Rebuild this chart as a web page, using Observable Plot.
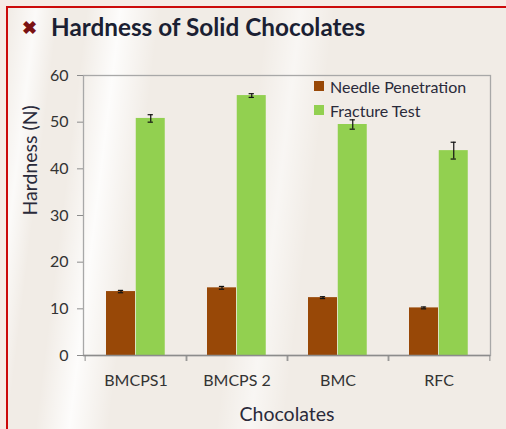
<!DOCTYPE html>
<html>
<head>
<meta charset="utf-8">
<script src="https://cdn.jsdelivr.net/npm/d3@7"></script>
<script src="https://cdn.jsdelivr.net/npm/@observablehq/plot@0.6"></script>
<style>
  html, body { margin: 0; padding: 0; background: #f6ebe5; }
  #wrap { position: relative; width: 506px; height: 429px; overflow: hidden; background: #f6ebe5; }
  #panel {
    position: absolute; left: 6px; top: 6px; width: 510px; height: 440px;
    border-left: 2px solid #cc0a0a; border-top: 2px solid #cc0a0a;
    background:
      linear-gradient(97deg, rgba(255,255,255,0) 0%, rgba(255,255,255,0.75) 5%, rgba(255,255,255,0) 9%,
        rgba(255,255,255,0) 14%, rgba(255,255,255,0.85) 20%, rgba(255,255,255,0) 27%,
        rgba(255,255,255,0) 46%, rgba(255,255,255,0.55) 52%, rgba(255,255,255,0) 58%),
      #f1ece6;
  }
  #chart { position: absolute; left: 0; top: 0; }
  #title { position: absolute; left: 22px; top: 12px; font-family: Lato, sans-serif; font-weight: bold;
           font-size: 24.3px; color: #1b1f33; white-space: nowrap; }
  #title .x { color: #7a1212; font-size: 18px; margin-right: 14px; position: relative; top: -2px; }
  #legend { position: absolute; left: 314px; top: 74px; font-family: Lato, sans-serif; font-size: 16px; color: #2a2a3a; }
  #legend div { display: flex; align-items: center; height: 24px; }
  #legend span.sw { width: 10px; height: 10px; display: inline-block; margin-right: 6px; }
</style>
</head>
<body>
<div id="wrap">
  <div id="panel"></div>
  <div id="chart"></div>
  <div id="title"><span class="x">&#10006;</span>Hardness of Solid Chocolates</div>
  <div id="legend"></div>
</div>
<script>
const categories = ["BMCPS1", "BMCPS 2", "BMC", "RFC"];
const seriesNames = ["Needle Penetration", "Fracture Test"];
const needle = [13.7, 14.5, 12.4, 10.2];
const needleErr = [0.25, 0.3, 0.2, 0.2];
const fracture = [50.8, 55.7, 49.5, 43.9];
const fractureErr = [0.8, 0.4, 1.0, 1.8];
const yTicks = [0, 10, 20, 30, 40, 50, 60];
const xTitle = "Chocolates";
const yTitle = "Hardness (N)";
const colors = ["#984807", "#92d050"];

const needleRows = categories.map((c, i) => ({category: c, value: needle[i], err: needleErr[i]}));
const fractureRows = categories.map((c, i) => ({category: c, value: fracture[i], err: fractureErr[i]}));

const W = 506, H = 429;
const mL = 83, mR = 16, mT = 75, mB = 74;
const band = (W - mL - mR) / categories.length;
const barW = 29.75;
const off1 = band / 2 - 50.875 + 21;          // needle bar left inset
const nCenter = off1 + barW / 2;
const fCenter = off1 + barW + barW / 2;
const cap = 3;

function errMarks(rows, center) {
  return [
    Plot.ruleX(rows, {x: "category", y1: d => d.value - d.err, y2: d => d.value + d.err,
      dx: center - band / 2, stroke: "#111", strokeWidth: 1.2}),
    Plot.tickY(rows, {x: "category", y: d => d.value - d.err, stroke: "#111", strokeWidth: 1.2,
      insetLeft: center - cap, insetRight: band - center - cap}),
    Plot.tickY(rows, {x: "category", y: d => d.value + d.err, stroke: "#111", strokeWidth: 1.2,
      insetLeft: center - cap, insetRight: band - center - cap})
  ];
}

const chart = Plot.plot({
  width: W, height: H,
  marginLeft: mL, marginRight: mR, marginTop: mT, marginBottom: mB,
  style: {fontFamily: "Lato, sans-serif", background: "transparent", color: "#333"},
  x: {domain: categories, padding: 0, label: null},
  y: {domain: [0, 60], label: null},
  marks: [
    Plot.frame({stroke: "#a8a8a8", strokeWidth: 1.3}),
    Plot.barY(needleRows, {x: "category", y: "value", fill: colors[0],
      insetLeft: off1, insetRight: band - off1 - barW}),
    Plot.barY(fractureRows, {x: "category", y: "value", fill: colors[1],
      insetLeft: off1 + barW, insetRight: band - off1 - 2 * barW}),
    ...errMarks(needleRows, nCenter),
    ...errMarks(fractureRows, fCenter),
    Plot.axisY({ticks: yTicks, tickSize: 6, tickPadding: 9, fontSize: 16, stroke: "#8c8c8c", label: null}),
    Plot.axisX({tickSize: 0, tickPadding: 19, fontSize: 16, label: null}),
    Plot.axisX({tickSize: 6, tickFormat: () => "", label: null, dx: -band / 2, stroke: "#8c8c8c"}),
    Plot.axisX({tickSize: 6, tickFormat: () => "", label: null, dx: band / 2, stroke: "#8c8c8c"}),
    Plot.ruleY([0], {stroke: "#8c8c8c", strokeWidth: 1.3}),
    Plot.text([xTitle], {text: d => d, frameAnchor: "bottom", dy: 65, fontSize: 19.5, fill: "#2a2a3a"}),
    Plot.text([yTitle], {text: d => d, frameAnchor: "left", dx: -53, rotate: -90, fontSize: 19.5, fill: "#2a2a3a"})
  ]
});
document.getElementById("chart").appendChild(chart);

const legend = document.getElementById("legend");
seriesNames.forEach((s, i) => {
  const row = document.createElement("div");
  const sw = document.createElement("span");
  sw.className = "sw";
  sw.style.background = colors[i];
  row.appendChild(sw);
  row.appendChild(document.createTextNode(s));
  legend.appendChild(row);
});
</script>
</body>
</html>
